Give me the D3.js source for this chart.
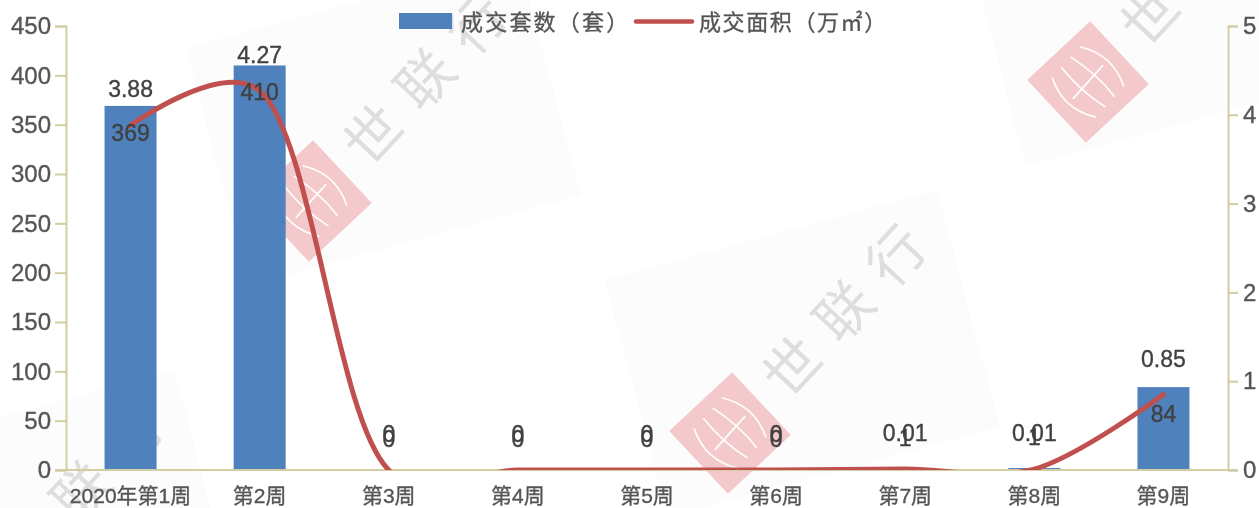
<!DOCTYPE html>
<html><head><meta charset="utf-8">
<script src="https://cdn.jsdelivr.net/npm/d3@7/dist/d3.min.js"></script>
<style>
html,body{margin:0;padding:0;background:#fff;overflow:hidden}
svg{display:block;filter:blur(0.55px)}
text{font-family:"Liberation Sans","Noto Sans CJK SC",sans-serif}
</style></head><body>
<svg id="c" width="1259" height="508"></svg>
<script>
const categories=["2020年第1周","第2周","第3周","第4周","第5周","第6周","第7周","第8周","第9周"];
const countValues=[369,410,0,0,0,0,1,2,84];
const countLabels=["369","410","0","0","0","0","1","1","84"];
const areaValues=[3.88,4.27,0,0,0,0,0.01,0.01,0.85];
const areaLabels=["3.88","4.27","0","0","0","0","0.01","0.01","0.85"];
const leftTicks=[0,50,100,150,200,250,300,350,400,450];
const rightTicks=[0,1,2,3,4,5];
const seriesNames=["成交套数（套）","成交面积（万㎡）"];
const watermarkCentres=[[311,201],[1088,82],[730,433],[-33,613]];

const W=1259,H=508,L=66,R=1228,T=26,B=470;
const axisCol="#d3cda3",textCol="#555555",labelCol="#404040",barCol="#4f81bd",lineCol="#c0504d";
const svg=d3.select("#c");

// watermarks
const wm=svg.append("g").selectAll("g").data(watermarkCentres).join("g")
  .attr("transform",d=>`translate(${d[0]},${d[1]})`);
wm.append("polygon").attr("points","-125,-153 207,-243 270,-6 -62,84").attr("fill","#fcfcfc");
wm.append("rect").attr("x",-43).attr("y",-43).attr("width",86).attr("height",86)
  .attr("transform","rotate(47)").attr("fill","#f4c9cc");
const globe=wm.append("g").attr("transform","rotate(42)").attr("fill","none")
  .attr("stroke","#fff").attr("stroke-width",1.7).attr("stroke-linecap","round");
[[-21,-37],[-7,-12],[7,12],[21,37]].forEach(o=>{
  globe.append("path").attr("d",`M-29,${o[0]}Q0,${o[1]} 29,${o[0]}`);
});
globe.append("path").attr("d","M0,-22V22");
wm.append("text").attr("transform","translate(44,-45) rotate(-47)")
  .attr("font-size",56).attr("letter-spacing",20).attr("fill","#dedede")
  .attr("dominant-baseline","central").text("世联行");

// scales
const x=d3.scaleBand().domain(categories).range([L,R]);
const yL=d3.scaleLinear().domain([0,450]).range([B,T]);
const yR=d3.scaleLinear().domain([0,5]).range([B,T]);
const cx=c=>x(c)+x.bandwidth()/2;

// bars
svg.append("g").selectAll("rect").data(categories).join("rect")
  .attr("x",c=>cx(c)-26).attr("width",52)
  .attr("y",(c,i)=>yL(countValues[i])).attr("height",(c,i)=>B-yL(countValues[i]))
  .attr("fill",barCol);

// axes
function style(g,size){
  g.select(".domain").attr("stroke",axisCol).attr("stroke-width",2);
  g.selectAll(".tick line").attr("stroke",axisCol).attr("stroke-width",2);
  g.selectAll("text").attr("font-size",size).attr("fill",textCol).attr("font-family",null)
    .attr("stroke",textCol).attr("stroke-width",0.35);
}
svg.append("g").attr("transform",`translate(${L},0)`)
  .call(d3.axisLeft(yL).tickValues(leftTicks).tickSize(11).tickSizeOuter(11).tickPadding(4).tickFormat(d3.format("d")))
  .call(style,24);
svg.append("g").attr("transform",`translate(${R},0)`)
  .call(d3.axisRight(yR).tickValues(rightTicks).tickSize(10).tickSizeOuter(10).tickPadding(5).tickFormat(d3.format("d")))
  .call(style,24);
svg.append("g").attr("transform",`translate(0,${B})`)
  .call(d3.axisBottom(x).tickSize(0).tickPadding(18))
  .call(g=>{g.select(".domain").attr("d",`M${L-11},0H${R+10}`);})
  .call(style,21);

// line
svg.append("clipPath").attr("id","plot").append("rect").attr("x",L).attr("y",T).attr("width",R-L).attr("height",B-T);
const line=d3.line().x(d=>cx(d.c)).y(d=>yR(d.v)).curve(d3.curveCatmullRom.alpha(0.3));
svg.append("path").datum(categories.map((c,i)=>({c,v:areaValues[i]})))
  .attr("d",line).attr("fill","none").attr("stroke",lineCol).attr("stroke-width",5)
  .attr("stroke-linecap","round").attr("clip-path","url(#plot)");

// value labels
const vl=svg.append("g").attr("text-anchor","middle").attr("font-size",23).attr("fill",labelCol)
  .attr("stroke",labelCol).attr("stroke-width",0.35);
vl.selectAll("text.a").data(categories).join("text").attr("class","a")
  .attr("x",cx).attr("y",(c,i)=>yR(areaValues[i])-36).attr("dominant-baseline","central")
  .text((c,i)=>areaLabels[i]);
vl.selectAll("text.b").data(categories).join("text").attr("class","b")
  .attr("x",cx).attr("y",(c,i)=>{const t=yL(countValues[i]);return countValues[i]>10?t+27:t-31;})
  .attr("dominant-baseline","central").text((c,i)=>countLabels[i]);

// legend
const lg=svg.append("g");
lg.append("rect").attr("x",399).attr("y",13).attr("width",53).attr("height",16).attr("fill",barCol);
lg.append("text").attr("x",461).attr("y",22).attr("dominant-baseline","central")
  .attr("font-size",22).attr("letter-spacing",2.2).attr("fill",textCol)
  .attr("stroke",textCol).attr("stroke-width",0.35).text(seriesNames[0]);
lg.append("line").attr("x1",636).attr("x2",692).attr("y1",21.5).attr("y2",21.5)
  .attr("stroke",lineCol).attr("stroke-width",4.5).attr("stroke-linecap","round");
lg.append("text").attr("x",699).attr("y",22).attr("dominant-baseline","central")
  .attr("font-size",22).attr("letter-spacing",1.6).attr("fill",textCol)
  .attr("stroke",textCol).attr("stroke-width",0.35).text(seriesNames[1]);
</script>
</body></html>
